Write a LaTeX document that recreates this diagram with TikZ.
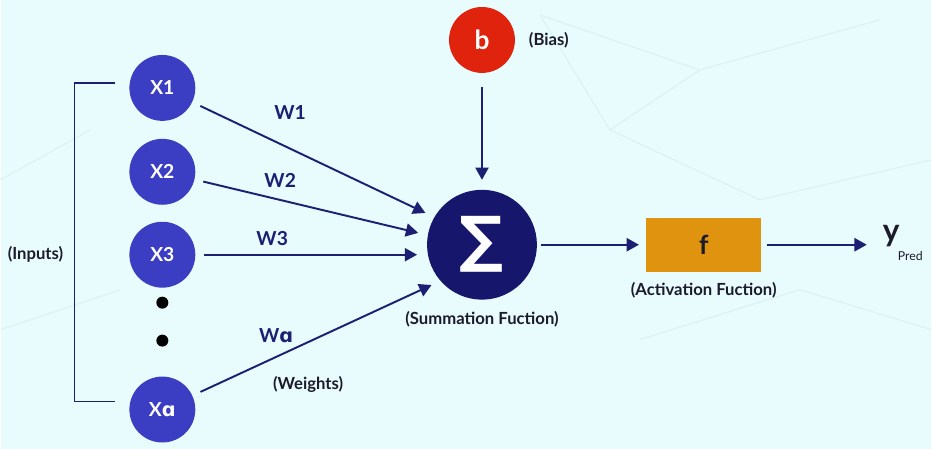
\documentclass[tikz,border=0pt]{standalone}
\usepackage{fontspec}
\setmainfont{Lato}
\newfontfamily\symfont{DejaVu Sans}
\usetikzlibrary{arrows.meta,positioning}
\definecolor{bgcyan}{HTML}{E8FBFD}
\definecolor{netline}{HTML}{DAF2F5}
\definecolor{inblue}{HTML}{3B3DC3}
\definecolor{sumnavy}{HTML}{15166C}
\definecolor{linknavy}{HTML}{1C1F72}
\definecolor{biasred}{HTML}{E0230D}
\definecolor{actorange}{HTML}{E0930F}
\definecolor{notetext}{HTML}{1B1B2B}

\begin{document}
\begin{tikzpicture}[x=0.02cm,y=-0.02cm,
    input/.style={circle,fill=inblue,text=white,minimum size=1.32cm,inner sep=0pt,font=\fontsize{11}{12}\selectfont\bfseries},
    wlabel/.style={text=linknavy,font=\fontsize{11}{12}\selectfont\bfseries},
    note/.style={text=notetext,font=\fontsize{9.5}{11}\selectfont\bfseries},
    link/.style={draw=linknavy,line width=1.1pt,-{Triangle[length=7pt,width=7.5pt]},shorten >=5.5pt,shorten <=5pt},
    dotnode/.style={circle,fill=black,minimum size=0.24cm,inner sep=0pt}]
\fill[bgcyan] (0,0) rectangle (932,450);
\draw[netline,line width=0.6pt] (540,15) -- (610,130) -- (700,70) -- (540,15) (610,130) -- (760,200) (700,70) -- (880,20) (760,200) -- (932,160) (640,340) -- (800,290) -- (932,330) (0,330) -- (120,290) (0,180) -- (90,130);

\node[input] (x1) at (162,88) {X1};
\node[input] (x2) at (162,172) {X2};
\node[input] (x3) at (162,255) {X3};
\node[dotnode] (d1) at (162,303) {};
\node[dotnode] (d2) at (162,341) {};
\node[input] (xa) at (162,410) {X{\symfont\bfseries ɑ}};

\draw[linknavy,line width=0.9pt] (115,83) -- (74,83) -- (74,402) -- (115,402);
\node[note] (inputs) at (35,255) {(Inputs)};

\node[circle,fill=sumnavy,text=white,minimum size=2.2cm,inner sep=0pt,font=\fontsize{35}{35}\selectfont\symfont\bfseries] (sigma) at (482,245) {∑};
\node[circle,fill=biasred,text=white,minimum size=1.32cm,inner sep=0pt,font=\fontsize{15}{15}\selectfont\bfseries] (b) at (482,40) {b};
\node[note,right=0.15cm of b] (bias) {(Bias)};
\node[note,below=0.1cm of sigma] (sumlabel) {(Summation Fuction)};

\node[rectangle,fill=actorange,text=notetext,minimum width=2.3cm,minimum height=1.08cm,font=\fontsize{15}{15}\selectfont\bfseries] (f) at (704,245) {f};
\node[note,below=0.08cm of f] (actlabel) {(Activation Fuction)};
\node[anchor=west,inner sep=0pt,text=notetext,font=\fontsize{18}{18}\selectfont\bfseries] (ypred) at (883,243) {y\kern-1pt\raisebox{-1.2ex}{\fontsize{7}{7}\selectfont\mdseries Pred}};

\draw[link,shorten <=8pt] (b) -- (sigma);
\draw[link] (x1) -- (sigma.150);
\draw[link] (x2) -- (sigma.170);
\draw[link] (x3) -- (sigma.west |- x3);
\draw[link] (xa) -- (sigma.221);
\draw[link,shorten <=2pt,shorten >=4pt] (sigma.east) -- (f.west);
\draw[link,shorten <=3pt,shorten >=9pt] (f.east) -- (f.east -| ypred.west);

\node[wlabel] (w1) at (290,113) {W1};
\node[wlabel] (w2) at (280,181) {W2};
\node[wlabel] (w3) at (272,239) {W3};
\node[wlabel] (wa) at (276,336) {W{\symfont\bfseries ɑ}};
\node[note] (weights) at (308,385) {(Weights)};
\end{tikzpicture}
\end{document}
